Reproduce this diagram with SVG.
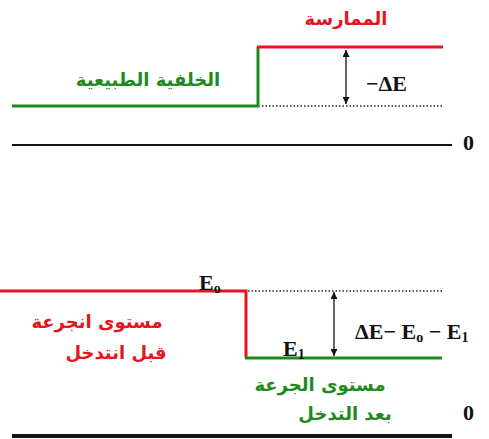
<svg xmlns="http://www.w3.org/2000/svg" width="489" height="439" viewBox="0 0 489 439">
<style>
.red{stroke:#e8141b;stroke-width:3;fill:none}
.grn{stroke:#1e8a1e;stroke-width:3;fill:none}
.blk{stroke:#111;stroke-width:2;fill:none}
.dot{stroke:#222;stroke-width:1.5;stroke-dasharray:1.5 2;fill:none}
.arr{stroke:#111;stroke-width:1.3;fill:none}
.ar{font-family:"DejaVu Sans",sans-serif;font-size:18px;font-weight:bold;text-anchor:middle}
.eq{font-family:"Liberation Serif",serif;font-size:22px;font-weight:bold;fill:#111}
.sub{font-size:14px}
</style>
<defs>
<marker id="ah" viewBox="0 0 10 10" refX="10" refY="5" markerWidth="7" markerHeight="7" orient="auto-start-reverse" markerUnits="userSpaceOnUse">
<path d="M0,0 L10,5 L0,10 z" fill="#111"/>
</marker>
</defs>
<g id="connectors">
<polyline class="grn" points="12,106 258,106 258,47"/>
<line class="red" x1="257" y1="47" x2="443" y2="47"/>
<line class="dot" x1="262" y1="106" x2="443" y2="106"/>
<line class="arr" x1="346" y1="50" x2="346" y2="104" marker-start="url(#ah)" marker-end="url(#ah)"/>
<line class="blk" x1="12" y1="145" x2="452" y2="145"/>
<polyline class="red" points="0,291 246,291 246,358"/>
<line class="grn" x1="245" y1="358" x2="442" y2="358"/>
<line class="dot" x1="248" y1="291" x2="443" y2="291"/>
<line class="arr" x1="334" y1="292" x2="334" y2="356" marker-start="url(#ah)" marker-end="url(#ah)"/>
<line x1="12" y1="436" x2="452" y2="436" stroke="#111" stroke-width="4"/>
</g>
<g id="top-labels">
<text class="ar" x="346" y="25" fill="#e8141b">الممارسة</text>
<text class="ar" x="148" y="86" fill="#1e8a1e">الخلفية الطبيعية</text>
<text class="eq" x="366" y="91">−ΔE</text>
<text class="eq" x="463" y="150">0</text>
</g>
<g id="bottom-labels">
<text class="eq" x="199" y="290">E<tspan class="sub" dy="3">o</tspan></text>
<text class="eq" x="283" y="356">E<tspan class="sub" dy="3">1</tspan></text>
<text class="eq" x="355" y="339">ΔE− E<tspan class="sub" dy="3">o</tspan><tspan dy="-3"> − E</tspan><tspan class="sub" dy="3">1</tspan></text>
<text class="ar" x="97" y="328" fill="#e8141b">مستوى انجرعة</text>
<text class="ar" x="116" y="359" fill="#e8141b">قبل انتدخل</text>
<text class="ar" x="320" y="391" fill="#1e8a1e">مستوى الجرعة</text>
<text class="ar" x="345" y="420" fill="#1e8a1e">بعد التدخل</text>
<text class="eq" x="463" y="420">0</text>
</g>
</svg>
